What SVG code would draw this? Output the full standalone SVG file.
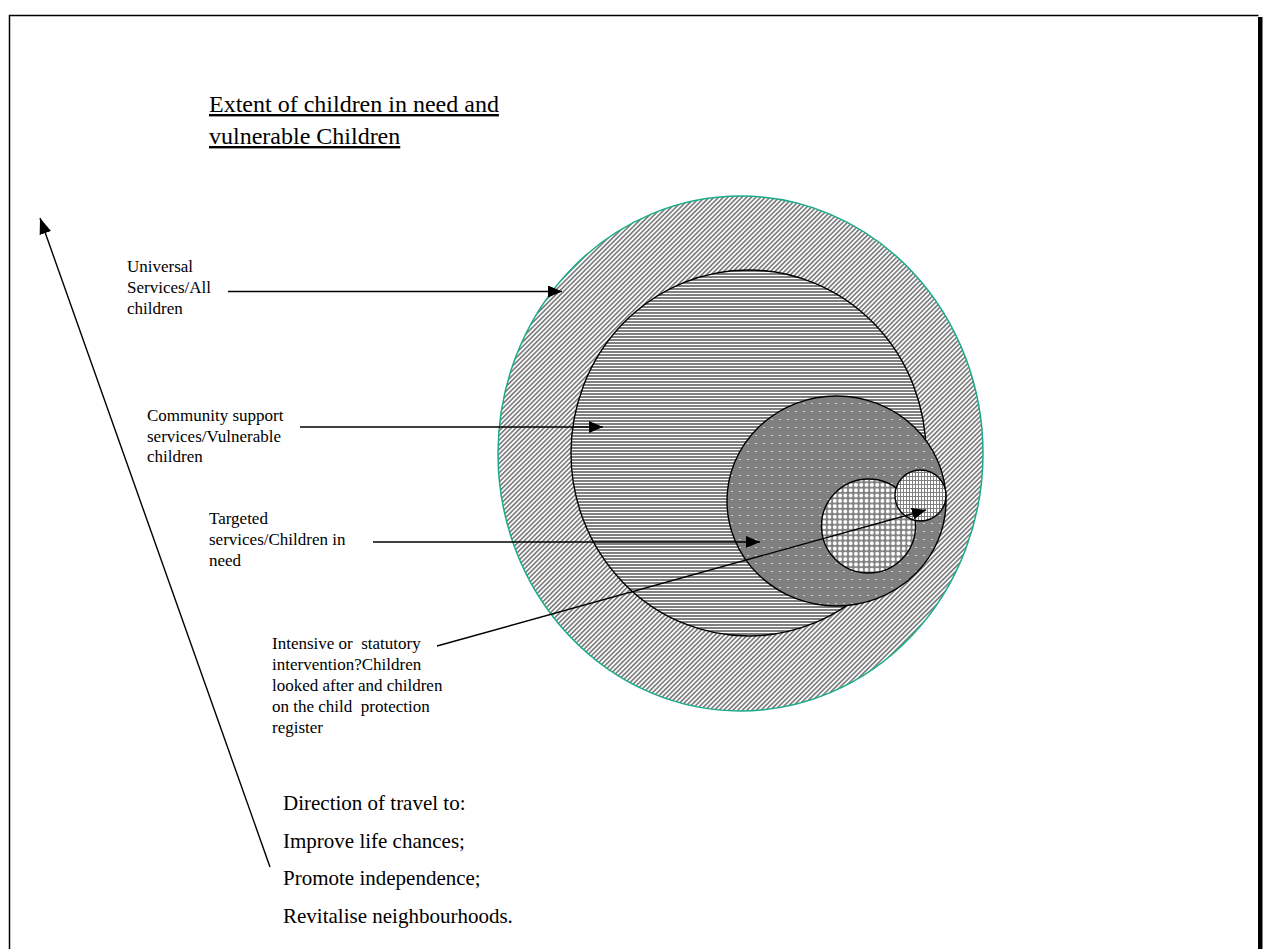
<svg xmlns="http://www.w3.org/2000/svg" width="1266" height="949" viewBox="0 0 1266 949">
<style>
.lbl{font-family:"Liberation Serif","Times New Roman",serif;font-size:17px;fill:#000;white-space:pre}
.big{font-family:"Liberation Serif","Times New Roman",serif;font-size:21px;fill:#000}
.ttl{font-family:"Liberation Serif","Times New Roman",serif;font-size:24px;fill:#000;text-decoration:underline}
.conn{stroke:#000;stroke-width:1.4;fill:none}
</style>
<defs>
<pattern id="diag" width="3.3" height="10" patternUnits="userSpaceOnUse" patternTransform="rotate(45)">
<rect width="3.3" height="10" fill="#fff"/>
<rect width="1.7" height="10" fill="#808080"/>
</pattern>
<pattern id="horiz" width="10" height="3" patternUnits="userSpaceOnUse">
<rect width="10" height="3" fill="#fff"/>
<rect width="10" height="2" fill="#808080"/>
</pattern>
<pattern id="dots" width="8" height="8" patternUnits="userSpaceOnUse">
<rect width="8" height="8" fill="#808080"/>
<rect x="3" y="3" width="2" height="1" fill="#d0d0d0"/>
</pattern>
<pattern id="check" width="5.3" height="5.3" patternUnits="userSpaceOnUse">
<rect width="5.3" height="5.3" fill="#808080"/>
<circle cx="2.65" cy="2.65" r="2" fill="#fff"/>
</pattern>
<pattern id="grid" width="3" height="4" patternUnits="userSpaceOnUse">
<rect width="3" height="4" fill="#fff"/>
<rect width="1" height="4" fill="#808080"/>
<rect width="3" height="1" fill="#808080"/>
</pattern>
<marker id="ah" viewBox="0 0 14 12" refX="14" refY="6" markerWidth="14" markerHeight="12" markerUnits="userSpaceOnUse" orient="auto">
<path d="M0,0 L14,6 L0,12 Z" fill="#000"/>
</marker>
<marker id="ah2" viewBox="0 0 16 12" refX="16" refY="6" markerWidth="16" markerHeight="12" markerUnits="userSpaceOnUse" orient="auto">
<path d="M0,0 L16,6 L0,12 Z" fill="#000"/>
</marker>
</defs>
<rect width="1266" height="949" fill="#fff"/>
<g id="frame">
<path d="M9.5,960 L9.5,15.5 L1258.5,15.5" fill="none" stroke="#000" stroke-width="1.5"/>
<rect x="1258" y="17" width="4.5" height="940" fill="#000"/>
</g>
<g id="title">
<text class="ttl" x="209" y="112">Extent of children in need and</text>
<text class="ttl" x="209" y="144">vulnerable Children</text>
</g>
<g id="n-universal">
<ellipse cx="740.5" cy="453.5" rx="242.5" ry="257.5" fill="url(#diag)" stroke="#1aab8a" stroke-width="1.5"/>
<text class="lbl" x="127" y="272">Universal</text>
<text class="lbl" x="127" y="293">Services/All</text>
<text class="lbl" x="127" y="314">children</text>
</g>
<g id="n-community">
<ellipse cx="748.5" cy="453" rx="177.5" ry="183" fill="url(#horiz)" stroke="#000" stroke-width="1.4"/>
<text class="lbl" x="147" y="421">Community support</text>
<text class="lbl" x="147" y="442">services/Vulnerable</text>
<text class="lbl" x="147" y="462">children</text>
</g>
<g id="n-targeted">
<ellipse cx="836.5" cy="501" rx="109.5" ry="105" fill="url(#dots)" stroke="#000" stroke-width="1.4"/>
<text class="lbl" x="209" y="524">Targeted</text>
<text class="lbl" x="209" y="545">services/Children in</text>
<text class="lbl" x="209" y="566">need</text>
</g>
<g id="n-intensive">
<circle cx="868.5" cy="526" r="47" fill="url(#check)" stroke="#000" stroke-width="1.4"/>
<circle cx="920.5" cy="495.5" r="25.5" fill="url(#grid)" stroke="#000" stroke-width="1.4"/>
<text class="lbl" x="272" y="649" xml:space="preserve">Intensive or  statutory</text>
<text class="lbl" x="272" y="670">intervention?Children</text>
<text class="lbl" x="272" y="691">looked after and children</text>
<text class="lbl" x="272" y="712" xml:space="preserve">on the child  protection</text>
<text class="lbl" x="272" y="733">register</text>
</g>
<g id="n-direction">
<text class="big" x="283" y="810">Direction of travel to:</text>
<text class="big" x="283" y="848">Improve life chances;</text>
<text class="big" x="283" y="885">Promote independence;</text>
<text class="big" x="283" y="923">Revitalise neighbourhoods.</text>
</g>
<g id="connectors">
<line class="conn" x1="228" y1="291.5" x2="562" y2="291.5" marker-end="url(#ah)"/>
<line class="conn" x1="300" y1="427" x2="603" y2="427" marker-end="url(#ah)"/>
<line class="conn" x1="373" y1="542" x2="760" y2="542" marker-end="url(#ah)"/>
<line class="conn" x1="437" y1="646" x2="926" y2="510" marker-end="url(#ah)"/>
<line class="conn" x1="270" y1="867" x2="40" y2="218" marker-end="url(#ah2)"/>
</g>
</svg>
